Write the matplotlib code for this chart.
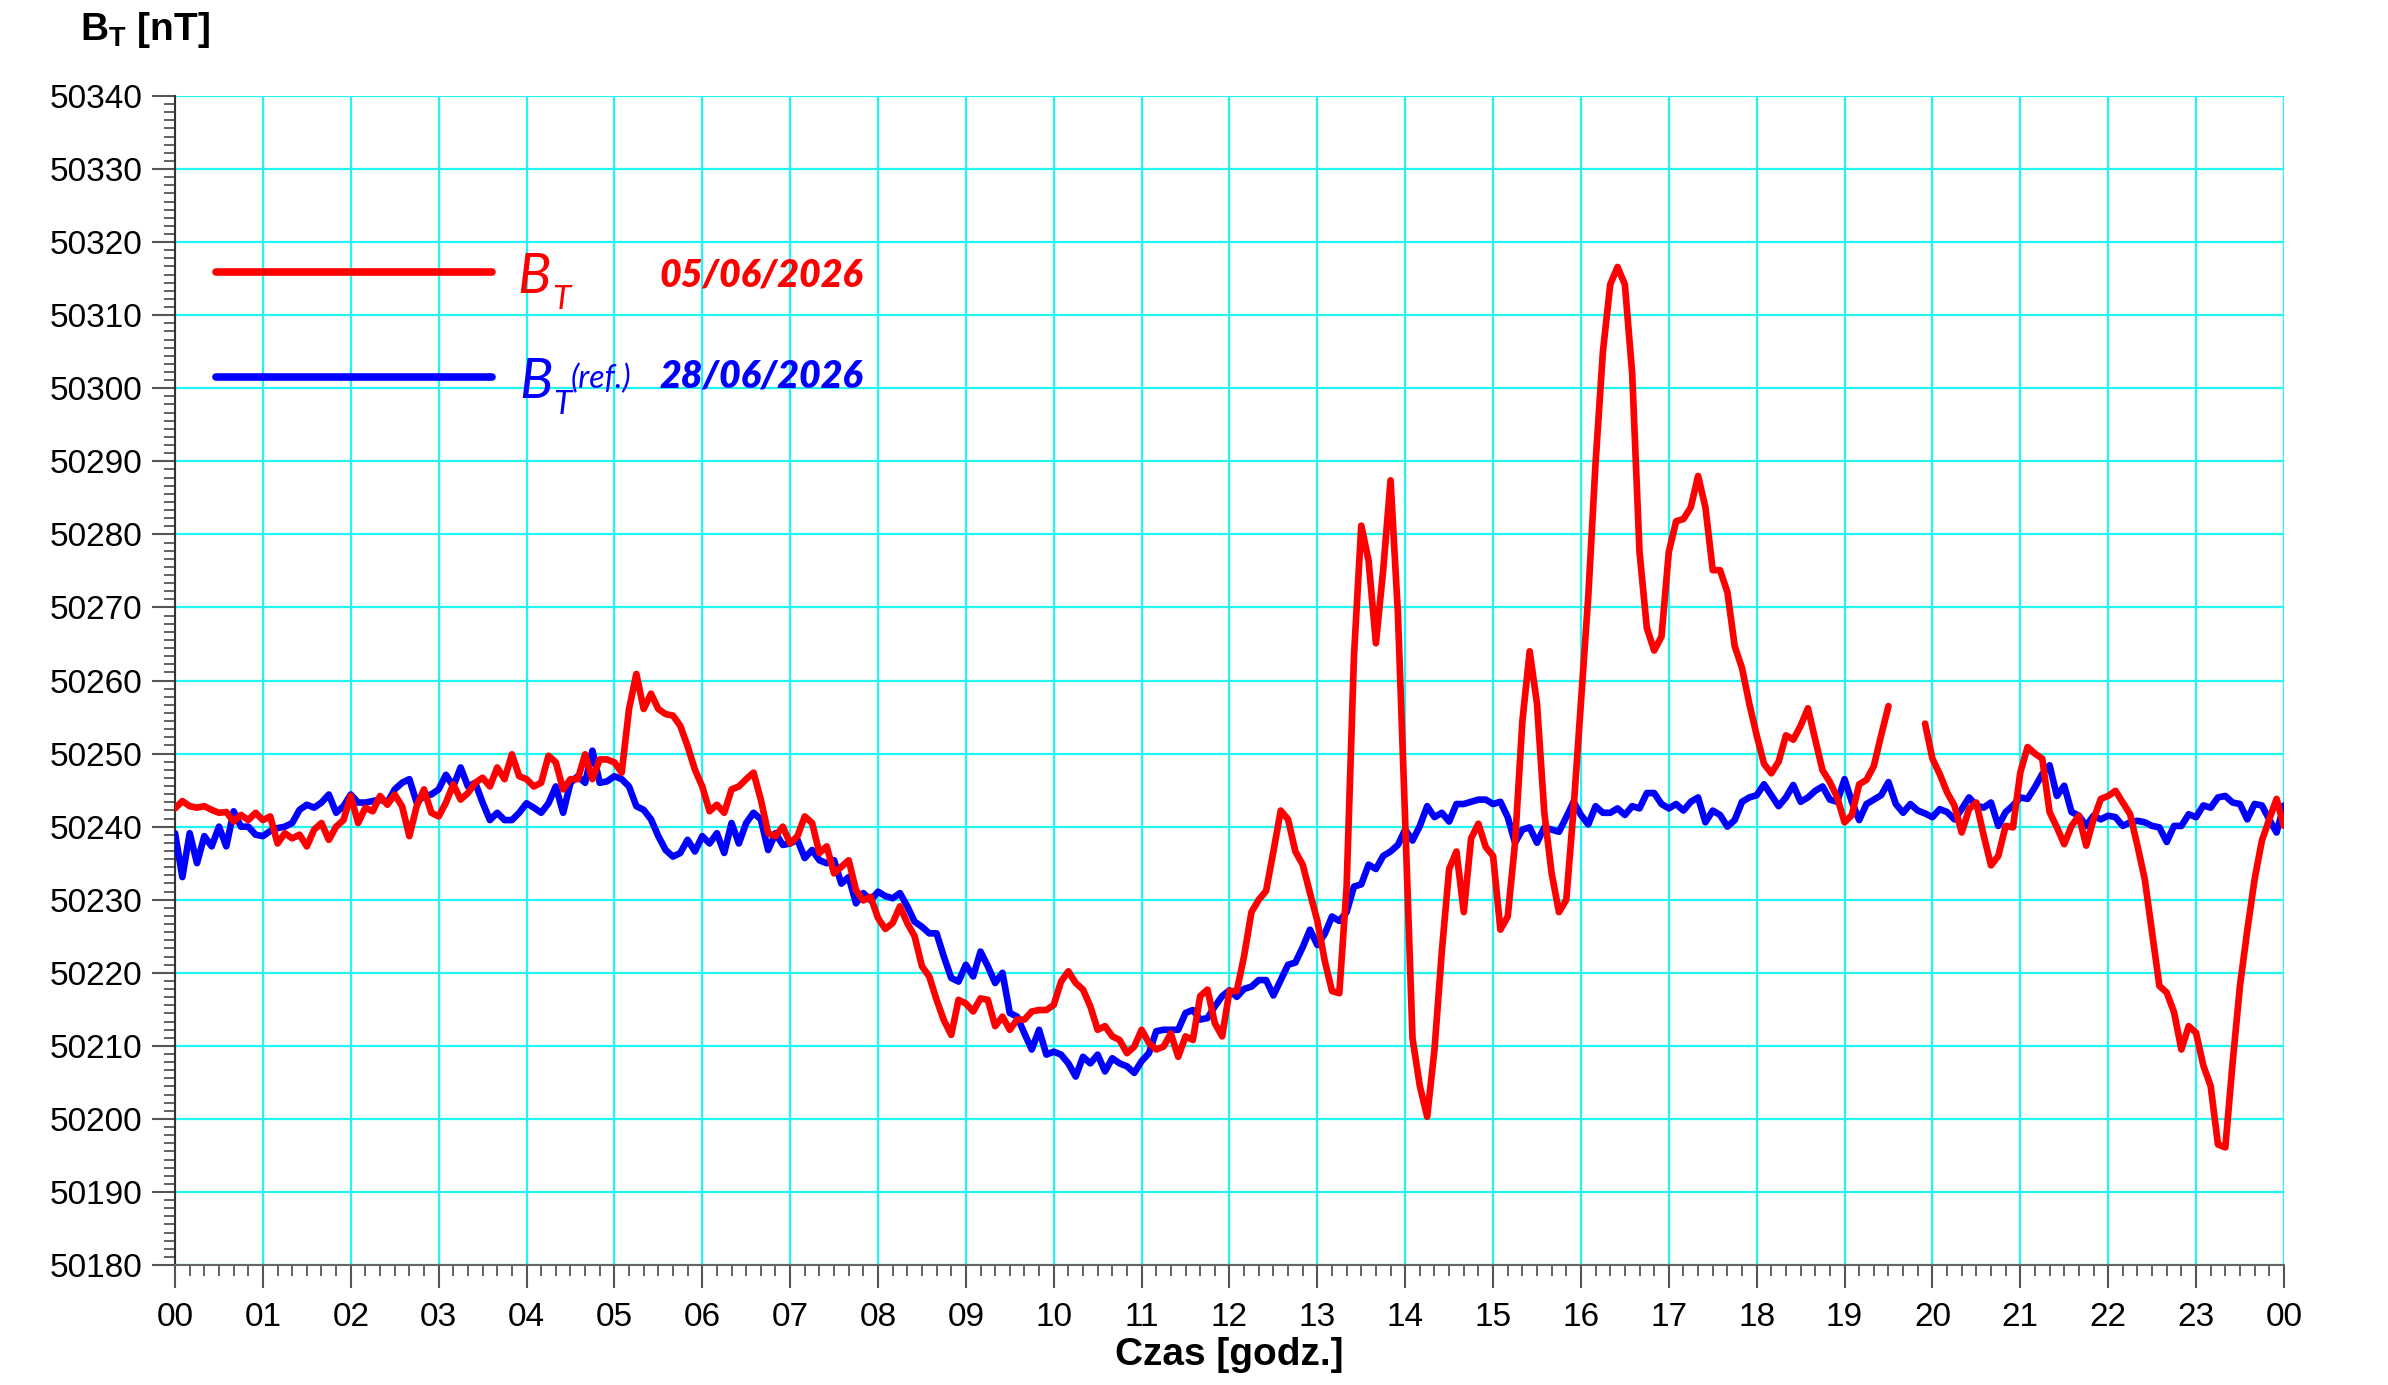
import numpy as np
import matplotlib.pyplot as plt
from matplotlib.ticker import AutoMinorLocator
from matplotlib.lines import Line2D

plt.rcParams['font.family'] = ['Liberation Sans', 'DejaVu Sans']
plt.rcParams['mathtext.fontset'] = 'custom'
plt.rcParams['mathtext.rm'] = 'Liberation Sans'
plt.rcParams['mathtext.bf'] = 'Liberation Sans:bold'
plt.rcParams['mathtext.it'] = 'Liberation Sans:italic'

# === data: 5-minute samples, 00:00 .. 24:00 ===
hours = np.arange(289) / 12.0

# B_T on 05/06/2026 (nan = gap in record)
bt_day = [
    50242.5, 50243.5, 50242.8, 50242.6, 50242.8, 50242.3, 50241.9, 50242.0, 50240.7, 50241.6, 50240.9, 50241.9,
    50240.9, 50241.4, 50237.7, 50239.1, 50238.4, 50238.9, 50237.3, 50239.6, 50240.5, 50238.2, 50240.0, 50240.9,
    50244.2, 50240.5, 50242.6, 50242.1, 50244.2, 50243.0, 50244.4, 50242.8, 50238.7, 50242.8, 50245.1, 50241.9,
    50241.4, 50243.3, 50245.8, 50243.7, 50244.6, 50246.0, 50246.7, 50245.5, 50248.1, 50246.5, 50249.9, 50246.9,
    50246.5, 50245.5, 50246.0, 50249.7, 50248.8, 50245.1, 50246.5, 50246.5, 50249.9, 50246.5, 50249.2, 50249.2,
    50248.8, 50247.4, 50256.1, 50260.9, 50256.1, 50258.2, 50256.1, 50255.4, 50255.2, 50253.8, 50251.0, 50247.8,
    50245.5, 50242.1, 50243.0, 50241.9, 50245.1, 50245.5, 50246.5, 50247.4, 50243.7, 50239.1, 50238.7, 50240.0,
    50237.7, 50238.7, 50241.4, 50240.5, 50236.4, 50237.3, 50233.6, 50234.5, 50235.4, 50231.3, 50229.9, 50230.4,
    50227.5, 50226.0, 50226.8, 50229.1, 50226.8, 50225.0, 50220.9, 50219.5, 50216.3, 50213.5, 50211.5, 50216.3,
    50215.8, 50214.7, 50216.5, 50216.3, 50212.7, 50214.0, 50212.2, 50213.6, 50213.6, 50214.7, 50214.9, 50214.9,
    50215.6, 50218.8, 50220.2, 50218.6, 50217.7, 50215.4, 50212.2, 50212.7, 50211.3, 50210.8, 50209.0, 50209.9,
    50212.2, 50210.4, 50209.5, 50209.9, 50211.7, 50208.5, 50211.3, 50210.8, 50216.8, 50217.7, 50213.1, 50211.3,
    50217.5, 50217.5, 50222.3, 50228.3, 50230.0, 50231.2, 50236.6, 50242.2, 50241.0, 50236.6, 50234.8, 50230.9,
    50227.1, 50221.7, 50217.5, 50217.2, 50231.8, 50263.3, 50281.2, 50276.4, 50265.1, 50275.2, 50287.4, 50269.3,
    50240.7, 50211.0, 50204.5, 50200.3, 50209.5, 50222.9, 50234.2, 50236.6, 50228.3, 50238.4, 50240.4, 50237.2,
    50236.0, 50225.9, 50227.7, 50237.8, 50254.4, 50264.0, 50256.8, 50241.9, 50233.6, 50228.3, 50230.0, 50242.5,
    50257.0, 50271.5, 50289.8, 50305.0, 50314.2, 50316.6, 50314.2, 50302.0, 50277.6, 50267.2, 50264.1, 50266.0,
    50277.6, 50281.8, 50282.1, 50283.7, 50288.0, 50283.7, 50275.1, 50275.1, 50272.1, 50264.7, 50261.7, 50256.8,
    50252.5, 50248.6, 50247.3, 50248.9, 50252.5, 50251.9, 50253.8, 50256.2, 50251.9, 50247.7, 50246.1, 50244.0,
    50240.6, 50241.6, 50245.8, 50246.4, 50248.3, 50252.5, 50256.5, np.nan, np.nan, np.nan, np.nan, 50254.1,
    50249.3, 50247.2, 50244.7, 50242.9, 50239.2, 50242.4, 50243.3, 50238.8, 50234.7, 50236.0, 50240.1, 50239.9,
    50247.4, 50250.9, 50250.0, 50249.3, 50242.0, 50239.9, 50237.6, 50240.1, 50241.5, 50237.4, 50241.0, 50243.8,
    50244.2, 50244.9, 50243.3, 50241.7, 50237.4, 50232.8, 50225.5, 50218.2, 50217.3, 50214.6, 50209.5, 50212.7,
    50211.8, 50207.3, 50204.5, 50196.5, 50196.1, 50207.7, 50218.2, 50225.8, 50232.8, 50238.1, 50241.0, 50243.8,
    50240.1,
]

# reference day B_T(ref.) on 28/06/2026
bt_ref = [
    50239.1, 50233.1, 50239.1, 50235.0, 50238.7, 50237.3, 50240.0, 50237.3, 50242.1, 50240.0, 50240.0, 50238.9,
    50238.7, 50239.4, 50239.8, 50240.0, 50240.5, 50242.3, 50243.0, 50242.6, 50243.3, 50244.4, 50241.9, 50242.8,
    50244.4, 50243.3, 50243.3, 50243.5, 50243.7, 50243.3, 50245.1, 50246.0, 50246.5, 50243.3, 50244.2, 50244.4,
    50245.1, 50247.1, 50245.5, 50248.1, 50245.5, 50246.0, 50243.3, 50240.9, 50241.9, 50240.9, 50240.9, 50241.9,
    50243.2, 50242.6, 50241.9, 50243.2, 50245.5, 50241.9, 50246.0, 50246.9, 50246.0, 50250.4, 50246.0, 50246.2,
    50246.9, 50246.5, 50245.5, 50242.8, 50242.3, 50241.0, 50238.7, 50236.8, 50235.9, 50236.4, 50238.2, 50236.6,
    50238.7, 50237.7, 50239.1, 50236.4, 50240.5, 50237.7, 50240.5, 50241.9, 50241.0, 50236.8, 50239.1, 50237.5,
    50237.7, 50238.2, 50235.7, 50236.8, 50235.4, 50235.0, 50235.4, 50232.2, 50233.1, 50229.5, 50230.9, 50229.9,
    50231.1, 50230.5, 50230.2, 50230.9, 50229.1, 50227.0, 50226.3, 50225.4, 50225.4, 50222.2, 50219.3, 50218.8,
    50221.1, 50219.5, 50222.9, 50220.9, 50218.6, 50220.0, 50214.5, 50214.0, 50211.7, 50209.5, 50212.2, 50208.8,
    50209.2, 50208.8, 50207.6, 50205.8, 50208.5, 50207.6, 50208.8, 50206.5, 50208.3, 50207.6, 50207.2, 50206.3,
    50207.9, 50209.0, 50212.0, 50212.2, 50212.2, 50212.2, 50214.5, 50214.9, 50213.6, 50213.8, 50215.4, 50216.8,
    50217.6, 50216.7, 50217.8, 50218.1, 50219.0, 50219.0, 50216.9, 50219.0, 50221.1, 50221.4, 50223.5, 50225.9,
    50223.8, 50225.3, 50227.7, 50227.1, 50228.3, 50231.8, 50232.1, 50234.8, 50234.2, 50236.0, 50236.6, 50237.5,
    50239.6, 50238.1, 50240.1, 50242.8, 50241.3, 50241.9, 50240.7, 50243.1, 50243.1, 50243.4, 50243.7, 50243.7,
    50243.1, 50243.4, 50241.3, 50237.8, 50239.6, 50239.9, 50237.8, 50239.9, 50239.6, 50239.3, 50241.3, 50243.4,
    50241.6, 50240.3, 50242.8, 50241.9, 50241.9, 50242.5, 50241.6, 50242.8, 50242.5, 50244.6, 50244.6, 50243.1,
    50242.5, 50243.1, 50242.2, 50243.4, 50244.0, 50240.6, 50242.2, 50241.6, 50240.0, 50240.9, 50243.4, 50244.0,
    50244.3, 50245.8, 50244.3, 50242.8, 50244.0, 50245.7, 50243.4, 50244.0, 50244.9, 50245.5, 50243.7, 50243.4,
    50246.5, 50243.4, 50240.9, 50243.1, 50243.7, 50244.3, 50246.1, 50243.1, 50241.9, 50243.1, 50242.2, 50241.8,
    50241.3, 50242.4, 50242.0, 50241.0, 50242.4, 50244.0, 50242.9, 50242.6, 50243.3, 50240.1, 50242.0, 50242.9,
    50244.0, 50243.8, 50245.4, 50247.2, 50248.4, 50244.2, 50245.6, 50242.0, 50241.5, 50240.1, 50241.5, 50241.0,
    50241.5, 50241.3, 50240.1, 50240.6, 50240.8, 50240.6, 50240.1, 50239.9, 50237.9, 50240.1, 50240.1, 50241.7,
    50241.3, 50242.9, 50242.6, 50244.0, 50244.2, 50243.3, 50243.1, 50241.0, 50243.1, 50242.9, 50241.0, 50239.2,
    50242.9,
]

hour_labels = ['%02d' % (h % 24) for h in range(25)]
y_ticks = list(range(50180, 50341, 10))

RED = '#ff0000'
BLUE = '#0000ff'

# === figure ===
fig = plt.figure(figsize=(23.88, 13.85), dpi=100)
ax = fig.add_axes([0.0733, 0.0866, 0.8831, 0.8441])

ax.plot(hours, bt_ref, color=BLUE, lw=4.8, solid_joinstyle='round', solid_capstyle='round', zorder=3)
ax.plot(hours, bt_day, color=RED, lw=4.8, solid_joinstyle='round', solid_capstyle='round', zorder=4)

ax.set_xlim(0, 24)
ax.set_ylim(50180, 50340)
ax.set_xticks(range(25))
ax.set_xticklabels(hour_labels)
ax.set_yticks(y_ticks)
ax.set_yticklabels([str(v) for v in y_ticks])
ax.xaxis.set_minor_locator(AutoMinorLocator(6))
ax.yaxis.set_minor_locator(AutoMinorLocator(9))

ax.grid(True, which='major', color='#22f4f4', lw=1.6)
ax.set_axisbelow(True)

ax.tick_params(which='major', direction='out', length=16.5, width=1.5,
               color='#555555', labelsize=24)
ax.tick_params(which='minor', direction='out', length=8, width=1.3, color='#555555')
ax.tick_params(axis='x', which='major', pad=10)
ax.tick_params(axis='y', which='major', pad=7)

ax.spines['top'].set_visible(False)
ax.spines['right'].set_visible(False)
ax.spines['left'].set_color('#333333')
ax.spines['bottom'].set_color('#666666')
ax.spines['left'].set_linewidth(1.5)
ax.spines['bottom'].set_linewidth(1.5)

# axis titles
fig.text(0.0335, 0.9711, r'$\mathbf{B}_\mathbf{T}$ [nT]', fontsize=28, fontweight='bold',
         ha='left', va='baseline')
fig.text(0.5147, 0.0144, 'Czas [godz.]', fontsize=28, fontweight='bold',
         ha='center', va='baseline')

# === hand-made legend ===
fig.add_artist(Line2D([0.0905, 0.206], [0.8036, 0.8036], transform=fig.transFigure,
                      color=RED, lw=5.5, solid_capstyle='round'))
fig.add_artist(Line2D([0.0905, 0.206], [0.7278, 0.7278], transform=fig.transFigure,
                      color=BLUE, lw=5.5, solid_capstyle='round'))

leg_font = ['Lato', 'DejaVu Sans']
fig.text(0.2165, 0.7884, 'B', color=RED, family=leg_font, style='italic', fontsize=40)
fig.text(0.2313, 0.7770, 'T', color=RED, family=leg_font, style='italic', fontsize=24)
fig.text(0.2760, 0.7928, '05/06/2026', color=RED, family=leg_font, style='italic',
         fontweight='heavy', fontsize=27)

fig.text(0.2173, 0.7126, 'B', color=BLUE, family=leg_font, style='italic', fontsize=40)
fig.text(0.2317, 0.7012, 'T', color=BLUE, family=leg_font, style='italic', fontsize=24)
fig.text(0.2390, 0.7199, '(ref.)', color=BLUE, family=leg_font, style='italic', fontsize=23)
fig.text(0.2760, 0.7199, '28/06/2026', color=BLUE, family=leg_font, style='italic',
         fontweight='heavy', fontsize=27)

fig.savefig('out.png', dpi=100)
